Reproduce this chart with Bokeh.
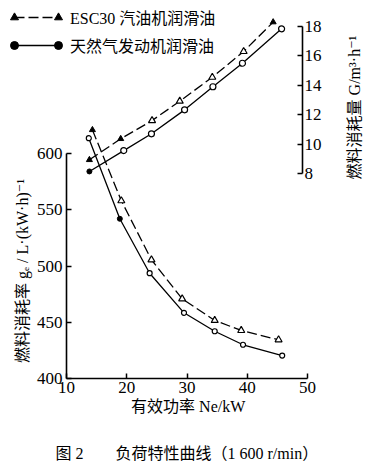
import numpy as np
from bokeh.plotting import figure
from bokeh.models import Range1d, LinearAxis, FixedTicker, Legend, LegendItem, Label
from bokeh.embed import file_html
from bokeh.resources import INLINE

# ---- data ----
# fuel consumption rate g_e (left axis), L/(kW.h)
ne_esc_ge = [14.3, 19.1, 24.1, 29.2, 34.6, 39.0, 45.2]
ge_esc = [621, 558, 505.5, 470.8, 451.6, 442.7, 434.4]
ne_gas_ge = [13.7, 18.85, 23.8, 29.5, 34.6, 39.3, 45.8]
ge_gas = [613.6, 542, 493.6, 458.4, 442, 430, 420.4]
# fuel consumption G (right axis), m3/h
ne_esc_G = [13.8, 19.0, 24.2, 28.8, 34.2, 39.4, 44.3]
G_esc = [8.93, 10.36, 11.6, 12.92, 14.55, 16.3, 18.3]
ne_gas_G = [13.8, 19.5, 24.1, 29.6, 34.3, 39.2, 45.7]
G_gas = [8.14, 9.56, 10.7, 12.33, 13.9, 15.5, 17.84]

x_ticks = [10, 20, 30, 40, 50]
ge_ticks = [400, 450, 500, 550, 600]
G_ticks = [8, 10, 12, 14, 16, 18]

series_names = ["ESC30 汽油机润滑油", "天然气发动机润滑油"]
x_title = "有效功率 Ne/kW"
ge_title = "燃料消耗率 gₑ / L·(kW·h)⁻¹"
G_title = "燃料消耗量 G/m³·h⁻¹"
caption = "图 2　　负荷特性曲线（1 600 r/min）"

FONT = "'Liberation Serif', 'DejaVu Serif', 'Noto Sans CJK SC'"

# frame covers the whole canvas; axes are pinned at fixed data locations
p = figure(width=372, height=464, output_backend="svg", toolbar_location=None,
           x_range=Range1d(-0.954, 60.788), y_range=Range1d(323.56, 736.0),
           x_axis_location=None, y_axis_location=None,
           min_border_left=0, min_border_right=0, min_border_top=0, min_border_bottom=0)
p.title.visible = False
p.extra_y_ranges = {"G": Range1d(-11.796, 19.769)}
for g in p.grid:
    g.visible = False
p.outline_line_color = None
p.background_fill_color = "white"
p.border_fill_color = "white"


def style_axis(ax):
    ax.axis_line_width = 1.6
    ax.axis_line_color = "black"
    ax.major_tick_line_width = 1.5
    ax.major_tick_line_color = "black"
    ax.major_tick_in = 5
    ax.major_tick_out = 0
    ax.minor_tick_in = 0
    ax.minor_tick_out = 0
    ax.major_label_text_font = "Liberation Serif"
    ax.major_label_text_font_size = "17px"
    ax.major_label_text_color = "black"


xa = LinearAxis(ticker=FixedTicker(ticks=x_ticks), bounds=(10, 50), fixed_location=400)
style_axis(xa)
xa.major_label_standoff = 3
p.add_layout(xa, "below")

ya = LinearAxis(ticker=FixedTicker(ticks=ge_ticks), bounds=(400, 600), fixed_location=10)
style_axis(ya)
ya.major_label_standoff = 4
p.add_layout(ya, "left")

ra = LinearAxis(y_range_name="G", ticker=FixedTicker(ticks=G_ticks), bounds=(8, 18),
                fixed_location=49.17)
style_axis(ra)
ra.major_label_standoff = 2
p.add_layout(ra, "right")

# ---- curves ----
LW = 1.3
DASH = "10 4"


def marker_sets(xs, ys, filled_idx):
    op = [(x, y) for i, (x, y) in enumerate(zip(xs, ys)) if i not in filled_idx]
    fl = [(x, y) for i, (x, y) in enumerate(zip(xs, ys)) if i in filled_idx]
    return ([a for a, _ in op], [b for _, b in op]), ([a for a, _ in fl], [b for _, b in fl])


esc_ge_line = p.line(ne_esc_ge, ge_esc, line_color="black", line_width=LW, line_dash=DASH)
gas_ge_line = p.line(ne_gas_ge, ge_gas, line_color="black", line_width=LW)
p.line(ne_esc_G, G_esc, line_color="black", line_width=LW, line_dash=DASH, y_range_name="G")
p.line(ne_gas_G, G_gas, line_color="black", line_width=LW, y_range_name="G")

(ox, oy), (fx, fy) = marker_sets(ne_esc_ge, ge_esc, [0])
p.scatter(ox, oy, marker="triangle", size=7, fill_color="white", line_color="black", line_width=1.2)
esc_fill_r = p.scatter(fx, fy, marker="triangle", size=6, fill_color="black", line_color="black")

(ox, oy), (fx, fy) = marker_sets(ne_gas_ge, ge_gas, [1])
p.scatter(ox, oy, marker="circle", size=5, fill_color="white", line_color="black", line_width=1.2)
gas_fill_r = p.scatter(fx, fy, marker="circle", size=5, fill_color="black", line_color="black")

(ox, oy), (fx, fy) = marker_sets(ne_esc_G, G_esc, [0, 1, 6])
p.scatter(ox, oy, marker="triangle", size=7, fill_color="white", line_color="black",
          line_width=1.2, y_range_name="G")
p.scatter(fx, fy, marker="triangle", size=6, fill_color="black", line_color="black",
          y_range_name="G")

(ox, oy), (fx, fy) = marker_sets(ne_gas_G, G_gas, [0])
p.scatter(ox, oy, marker="circle", size=6, fill_color="white", line_color="black",
          line_width=1.2, y_range_name="G")
p.scatter(fx, fy, marker="circle", size=5, fill_color="black", line_color="black",
          y_range_name="G")

# ---- legend (lines + markers at both ends) ----
common = dict(glyph_height=24, label_height=24, spacing=4, padding=0, margin=0,
              border_line_color=None, background_fill_alpha=0,
              label_text_font=FONT, label_text_font_size="16px", label_text_color="black")
legA = Legend(items=[LegendItem(label=series_names[0], renderers=[esc_ge_line]),
                     LegendItem(label=series_names[1], renderers=[gas_ge_line])],
              location=(14, 407), glyph_width=44, label_standoff=12, **common)
legB = Legend(items=[LegendItem(label=" ", renderers=[esc_fill_r]),
                     LegendItem(label=" ", renderers=[gas_fill_r])],
              location=(4, 407), glyph_width=20, label_standoff=0, **common)
legC = Legend(items=[LegendItem(label=" ", renderers=[esc_fill_r]),
                     LegendItem(label=" ", renderers=[gas_fill_r])],
              location=(48, 407), glyph_width=20, label_standoff=0, **common)
for lg in (legA, legB, legC):
    p.add_layout(lg)

# ---- axis titles and caption ----
lab = dict(x_units="screen", y_units="screen", text_baseline="middle",
           text_font=FONT, text_font_size="16px", text_color="black")
p.add_layout(Label(x=187.7, y=58, text=x_title, text_align="center", **lab))
p.add_layout(Label(x=22, y=193.5, text=ge_title, angle=np.pi / 2, text_align="center", **lab))
p.add_layout(Label(x=354, y=357, text=G_title, angle=np.pi / 2, text_align="center", **lab))
p.add_layout(Label(x=55, y=11, text=caption, text_align="left", **lab))

open("out.html", "w").write(file_html(p, INLINE))
